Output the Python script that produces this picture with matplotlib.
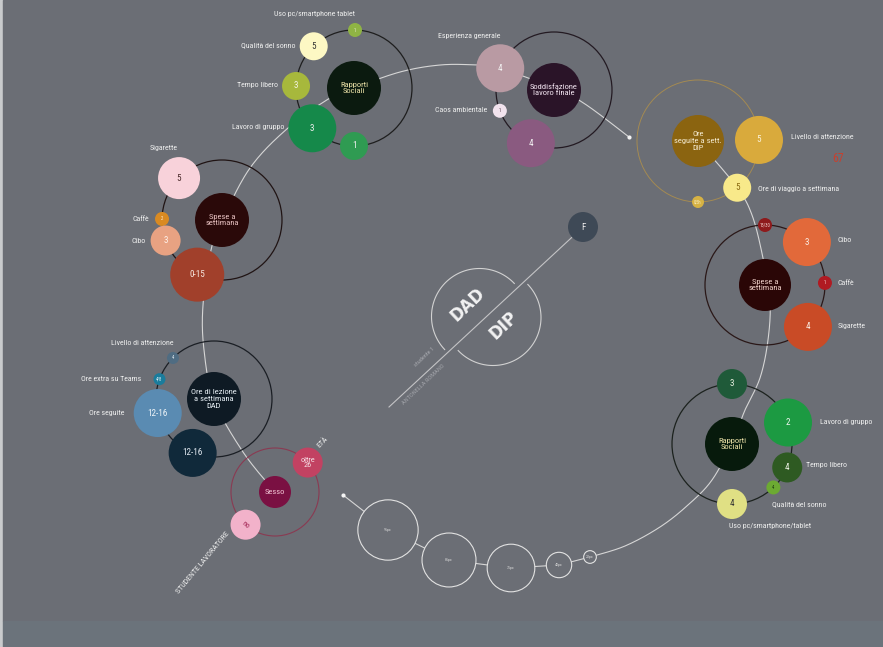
import numpy as np
import matplotlib.pyplot as plt
from matplotlib import font_manager as fm
from matplotlib.patches import Circle, Rectangle

# pick the narrowest sans that is installed
_fonts = [(f.name, f.stretch) for f in fm.fontManager.ttflist]
_names = {n for n, _ in _fonts}
FAMILY, STRETCH, K = "DejaVu Sans", "normal", 0.9
for cand in ["Liberation Sans Narrow", "Roboto Condensed", "Open Sans Condensed"]:
    if cand in _names:
        FAMILY, K = cand, 1.0
        break
else:
    if ("DejaVu Sans", "condensed") in _fonts:
        STRETCH, K = "condensed", 0.97
plt.rcParams["font.family"] = [FAMILY, "DejaVu Sans"]
plt.rcParams["font.stretch"] = STRETCH

# ------------------------------------------------------------------ data
# DAD side (studente 1)
rs_dad_title = "Rapporti\nSociali"
rs_dad_labels = ["Uso pc/smartphone tablet", "Qualità del sonno", "Tempo libero",
                 "Lavoro di gruppo", ""]
rs_dad_values = ["1", "5", "3", "3", "1"]

sodd_title = "Soddisfazione\nlavoro finale"
sodd_labels = ["Esperienza generale", "Caos ambientale", ""]
sodd_values = ["4", "1", "4"]

spese_dad_title = "Spese a\nsettimana"
spese_dad_labels = ["Sigarette", "Caffè", "Cibo", ""]
spese_dad_values = ["5", "2", "3", "0-15"]

lez_title = "Ore di lezione\na settimana\nDAD"
lez_labels = ["Livello di attenzione", "Ore extra su Teams", "Ore seguite", ""]
lez_values = ["4", "4/8", "12-16", "12-16"]

sesso_title = "Sesso"
sesso_labels = ["ETÀ", "STUDENTE LAVORATORE"]
sesso_values = ["oltre\n26", "no"]

# DIP side
ore_dip_title = "Ore\nseguite a sett.\nDIP"
ore_dip_labels = ["Livello di attenzione", "Ore di viaggio a settimana", ""]
ore_dip_values = ["5", "5", "0,5h"]
ore_dip_extra = "67"

spese_dip_title = "Spese a\nsettimana"
spese_dip_labels = ["", "Cibo", "Caffè", "Sigarette"]
spese_dip_values = ["15/30", "3", "1", "4"]

rs_dip_title = "Rapporti\nSociali"
rs_dip_labels = ["", "Lavoro di gruppo", "Tempo libero", "Qualità del sonno",
                 "Uso pc/smartphone/tablet"]
rs_dip_values = ["3", "2", "4", "4", "4"]

scale_px = [95, 85, 75, 40, 20]
sex = "F"
student = "studente 1"
author = "ANTONELLA ROMANO"

# ------------------------------------------------------------------ style
BG = "#6b6e75"
LINE = "#d6d6d6"
LAB = "#eeeeee"
FS_LAB = 5.7 * K
FS_TITLE = 6.1 * K
FS_VAL = 6.6 * K

fig = plt.figure(figsize=(8.83, 6.47), dpi=100)
fig.patch.set_facecolor("#c9cbcd")
ax = fig.add_axes([0, 0, 1, 1])
ax.set_xlim(0, 883)
ax.set_ylim(647, 0)
ax.axis("off")
ax.add_patch(Rectangle((3, 0), 880, 621, color=BG, zorder=0))
ax.add_patch(Rectangle((3, 621), 880, 26, color="#6b737b", zorder=0))


def smooth(pts, n=24):
    P = np.array(pts, float)
    P = np.vstack([P[0], P, P[-1]])
    t = np.linspace(0, 1, n)[:, None]
    out = []
    for i in range(1, len(P) - 2):
        p0, p1, p2, p3 = P[i - 1], P[i], P[i + 1], P[i + 2]
        out.append(0.5 * (2 * p1 + (-p0 + p2) * t + (2 * p0 - 5 * p1 + 4 * p2 - p3) * t ** 2
                          + (-p0 + 3 * p1 - 3 * p2 + p3) * t ** 3))
    return np.vstack(out)


def sat_xy(c, R, a):
    return c[0] + R * np.cos(np.radians(a)), c[1] - R * np.sin(np.radians(a))


def cluster(c, R, ring_col, core_r, core_col, title, title_col,
            angles, radii, colors, values, tcols, ring_lw=0.9):
    ax.add_patch(Circle(c, R, fill=False, ec=ring_col, lw=ring_lw, zorder=2))
    ax.add_patch(Circle(c, core_r, fc=core_col, ec="none", zorder=4))
    ax.text(c[0], c[1], title, color=title_col, ha="center", va="center",
            fontsize=FS_TITLE, linespacing=1.15, zorder=5)
    pos = []
    for a, r, col, v, tc in zip(angles, radii, colors, values, tcols):
        x, y = sat_xy(c, R, a)
        pos.append((x, y))
        ax.add_patch(Circle((x, y), r, fc=col, ec="none", zorder=4))
        fs = FS_VAL if r >= 12 else 3.3
        ax.text(x, y, v, color=tc, ha="center", va="center", fontsize=fs,
                linespacing=1.0, zorder=5)
    return pos


def lab(x, y, s, ha="left", rot=0):
    ax.text(x, y, s, color=LAB, fontsize=FS_LAB, ha=ha, va="center",
            rotation=rot, zorder=6)


# ------------------------------------------------------------------ connector paths
dad_path = [(275, 492), (243, 452), (214, 400), (204, 350), (203, 305), (211, 250),
            (222, 221), (250, 168), (288, 128), (330, 98), (354, 88), (400, 72),
            (440, 65), (475, 65), (499, 68), (554, 88), (585, 104), (629, 137)]
dip_path = [(698, 141), (736, 186), (752, 215), (763, 258), (770, 300), (768, 340),
            (760, 378), (745, 410), (732, 443), (712, 480), (688, 505), (660, 527),
            (625, 546), (590, 557)]
for p in (dad_path, dip_path):
    s = smooth(p)
    ax.plot(s[:, 0], s[:, 1], color=LINE, lw=0.8, zorder=1)

chain = [(590, 557), (559, 565), (511, 568), (449, 560), (388, 530), (343, 495)]
ch = np.array(chain)
ax.plot(ch[:, 0], ch[:, 1], color=LINE, lw=0.8, zorder=1)
for (x, y), px in zip(chain[::-1][1:], scale_px):
    ax.add_patch(Circle((x, y), px / 3.15, fc=BG, ec="#e2e2e2", lw=0.8, zorder=3))
    ax.text(x, y, f"{px}px", color="#dcdcdc", fontsize=2.9, ha="center", va="center", zorder=4)
for x, y in [(629, 137), (343, 495)]:
    ax.plot(x, y, "o", ms=3, color="#f4f4f4", mec="none", zorder=5)

# ------------------------------------------------------------------ DAD clusters
p = cluster((354, 88), 58, "#1e1e1e", 27, "#0b1a0f", rs_dad_title, "#ece2a8",
            [89, 134, 178, 224, 270], [7, 14, 14, 24, 14],
            ["#8fb444", "#fdf8c4", "#a7b83c", "#15894a", "#2f9b52"], rs_dad_values,
            ["#f0f0e0", "#333333", "#f4f4e0", "#f0f0f0", "#f0f0f0"])
lab(315, 14, rs_dad_labels[0], ha="center")
for (x, y), r, s in zip(p[1:4], [14, 14, 24], rs_dad_labels[1:4]):
    lab(x - r - 4, y - 1, s, ha="right")

p = cluster((554, 90), 58, "#231a22", 27, "#2a1428", sodd_title, "#f2e4f0",
            [158, 201, 246.5], [24, 7, 24], ["#b99aa3", "#f2e3ee", "#8a5a80"], sodd_values,
            ["#f4f4f4", "#4a3040", "#f4f4f4"])
lab(469, 36, sodd_labels[0], ha="center")
lab(p[1][0] - 13, p[1][1] - 1, sodd_labels[1], ha="right")

p = cluster((222, 220), 60, "#201414", 27, "#2a0909", spese_dad_title, "#e9c2c2",
            [135.7, 179, 200, 245.6], [21, 7, 15, 27],
            ["#f8d2da", "#d98a22", "#e8a282", "#a1402b"], spese_dad_values,
            ["#4a2a2a", "#fff0e0", "#fff2ea", "#f8e8e0"])
lab(164, 148, spese_dad_labels[0], ha="center")
lab(p[1][0] - 13, p[1][1], spese_dad_labels[1], ha="right")
lab(p[2][0] - 20, p[2][1], spese_dad_labels[2], ha="right")

p = cluster((214, 399), 58, "#1a1e24", 27, "#0e1a24", lez_title, "#e6eef4",
            [135, 160, 194, 248.4], [6, 6, 24, 24],
            ["#4f6c82", "#1a7c9c", "#5a8bb2", "#10293a"], lez_values,
            ["#e0eaf0", "#e0f0f4", "#eef4f8", "#e0e8f0"])
lab(142, 343, lez_labels[0], ha="center")
lab(p[1][0] - 18, p[1][1], lez_labels[1], ha="right")
lab(p[2][0] - 33, p[2][1], lez_labels[2], ha="right")

p = cluster((275, 492), 44, "#8a3a52", 16, "#7a1042", sesso_title, "#f2c4d4",
            [42, 228], [15, 15], ["#c24262", "#f2b2ca"], ["", ""], ["#000", "#000"],
            ring_lw=0.8)
ax.text(p[0][0], p[0][1], sesso_values[0], color="#f6e0e6", fontsize=FS_VAL * 0.9,
        ha="center", va="center", linespacing=0.95, zorder=5)
ax.text(p[1][0], p[1][1], sesso_values[1], color="#a02050", fontsize=FS_VAL * 0.85,
        ha="center", va="center", rotation=-40, zorder=5)
lab(322, 442, sesso_labels[0], ha="center", rot=45)
lab(203, 563, sesso_labels[1], ha="center", rot=50)

# ------------------------------------------------------------------ DIP clusters
p = cluster((698, 141), 61, "#a48a52", 26, "#8b6410", ore_dip_title, "#f4ead0",
            [1, 310, 270], [24, 14, 6], ["#d9aa3c", "#f8e98a", "#d6b244"], ore_dip_values,
            ["#fbf2d8", "#8a6a10", "#f8ecc0"], ring_lw=0.7)
lab(p[0][0] + 32, p[0][1] - 3, ore_dip_labels[0])
lab(p[1][0] + 21, p[1][1] + 1, ore_dip_labels[1])
ax.text(838, 158, ore_dip_extra, color="#c8402e", fontsize=8.5, ha="center", va="center")

p = cluster((765, 285), 60, "#2a1818", 26, "#2a0606", spese_dip_title, "#f2d2ca",
            [90, 45.7, 2, 315.7], [7, 24, 7, 24],
            ["#8e1a1c", "#e2693a", "#b01a22", "#c94b26"], spese_dip_values,
            ["#f4dcd8", "#fbeee4", "#fbe4e4", "#fbeee4"])
lab(838, p[1][1] - 2, spese_dip_labels[1])
lab(837, p[2][1], spese_dip_labels[2])
lab(838, p[3][1] - 1, spese_dip_labels[3])

p = cluster((732, 444), 60, "#1c221e", 27, "#071a0c", rs_dip_title, "#ece2a8",
            [90, 21, 337, 313.6, 270], [15, 24, 15, 7, 15],
            ["#1f5a39", "#1c9a42", "#2e5a22", "#6caa32", "#e0e084"], rs_dip_values,
            ["#e8f0e0", "#f0f8f0", "#f0f4e8", "#1c3a10", "#333333"])
lab(p[1][0] + 32, p[1][1], rs_dip_labels[1])
lab(p[2][0] + 19, p[2][1] - 2, rs_dip_labels[2])
lab(799, 504, rs_dip_labels[3], ha="center")
lab(770, 526, rs_dip_labels[4], ha="center")

# ------------------------------------------------------------------ centre DAD / DIP
a0 = np.radians(43.5)
along = np.array([np.cos(a0), -np.sin(a0)])
normal = np.array([-np.sin(a0), -np.cos(a0)])  # towards upper-left
ax.plot([389, 583], [407, 227], color="#c4c4c6", lw=0.8, zorder=1)
t = np.linspace(0, np.pi, 80)[:, None]
for cen, sgn in [((479.5, 316.5), 1), ((493, 317.5), -1)]:
    arc = np.array(cen) + 48 * (np.cos(t) * along + sgn * np.sin(t) * normal)
    ax.plot(arc[:, 0], arc[:, 1], color="#d2d2d2", lw=0.8, zorder=1)
ax.text(468, 304, "DAD", color="#f2f2f2", fontsize=12, fontweight="bold",
        rotation=43.5, ha="center", va="center", family="DejaVu Sans", stretch="normal")
ax.text(504, 325, "DIP", color="#f2f2f2", fontsize=12, fontweight="bold",
        rotation=43.5, ha="center", va="center", family="DejaVu Sans", stretch="normal")
ax.add_patch(Circle((583, 227), 15, fc="#3e4956", ec="none", zorder=4))
ax.text(583, 227, sex, color="#eeeeee", fontsize=FS_VAL, ha="center", va="center", zorder=5)
ax.text(424, 357, student, color="#a6a8ae", fontsize=4.6, rotation=43.5,
        ha="center", va="center")
ax.text(424, 384, author, color="#a0a2a8", fontsize=4.6, rotation=43.5,
        ha="center", va="center")

fig.savefig("out.png", dpi=100, facecolor=fig.get_facecolor())
